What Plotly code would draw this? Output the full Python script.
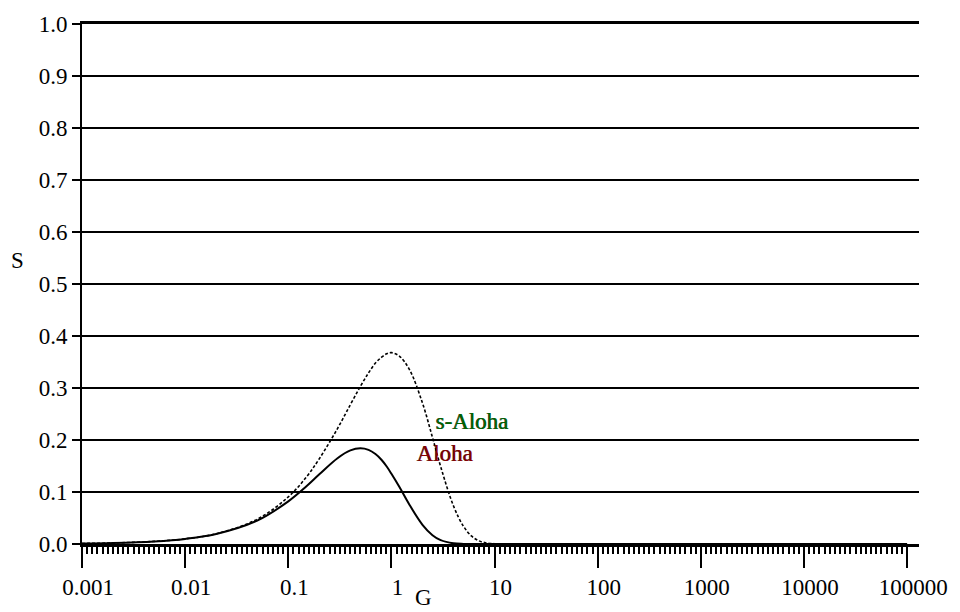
import numpy as np
import plotly.graph_objects as go

# Offered load G (log scale) and throughput S for the two protocols
G = [0.001, 0.002, 0.005, 0.01, 0.02, 0.05, 0.1, 0.15, 0.2, 0.3, 0.4, 0.5,
     0.6, 0.7, 0.8, 0.9, 1.0, 1.2, 1.5, 2.0, 2.5, 3.0, 4.0, 5.0, 6.0, 7.0,
     8.0, 10.0, 15.0, 100.0, 1000.0, 10000.0, 100000.0]
S_aloha = [0.001, 0.002, 0.005, 0.0098, 0.0192, 0.045, 0.082, 0.111, 0.134,
           0.165, 0.180, 0.184, 0.181, 0.173, 0.162, 0.149, 0.135, 0.109,
           0.075, 0.037, 0.017, 0.0074, 0.0013, 0.0002, 0.0, 0.0, 0.0, 0.0,
           0.0, 0.0, 0.0, 0.0, 0.0]
S_slotted = [0.001, 0.002, 0.005, 0.0099, 0.0196, 0.0476, 0.0905, 0.129,
             0.164, 0.222, 0.268, 0.303, 0.329, 0.348, 0.359, 0.366, 0.368,
             0.361, 0.335, 0.271, 0.205, 0.149, 0.073, 0.034, 0.015, 0.0064,
             0.0027, 0.0005, 0.0, 0.0, 0.0, 0.0, 0.0]

x_tickvals = [0.001, 0.01, 0.1, 1, 10, 100, 1000, 10000, 100000]
x_ticktext = ["0.001", "0.01", "0.1", "1", "10", "100", "1000", "10000", "100000"]
y_tickvals = [0.0, 0.1, 0.2, 0.3, 0.4, 0.5, 0.6, 0.7, 0.8, 0.9, 1.0]

FONT = "Liberation Serif, Times New Roman, serif"
FS = 23

fig = go.Figure()
fig.add_trace(go.Scatter(x=G, y=S_slotted, mode="lines", name="s-Aloha",
                         line=dict(color="black", width=1.6, dash="3px,2px"),
                         line_shape="spline"))
fig.add_trace(go.Scatter(x=G, y=S_aloha, mode="lines", name="Aloha",
                         line=dict(color="black", width=2),
                         line_shape="spline"))

minor_ticks = list(10 ** np.round(np.arange(-3, 5.0001, 0.05), 4))

fig.update_layout(
    width=960, height=612,
    margin=dict(l=82, r=35, t=19, b=68),
    paper_bgcolor="white", plot_bgcolor="white",
    showlegend=False,
    font=dict(family=FONT, size=FS, color="black"),
    xaxis=dict(
        type="log", range=[-3, 5.115],
        tickmode="array", tickvals=x_tickvals, ticktext=x_ticktext,
        ticks="outside", ticklen=21, tickwidth=2, tickcolor="black",
        ticklabelshift=6,
        showline=True, linecolor="black", linewidth=2.5,
        mirror=True,
        showgrid=False, zeroline=False,
        minor=dict(tickmode="array", tickvals=minor_ticks, ticks="outside",
                   ticklen=7, tickwidth=1.5, tickcolor="black", showgrid=False),
        tickfont=dict(family=FONT, size=FS),
    ),
    yaxis=dict(
        range=[0, 1],
        tickmode="array", tickvals=y_tickvals, tickformat=".1f",
        ticks="outside", ticklen=8, tickwidth=2, tickcolor="black",
        showline=True, linecolor="black", linewidth=2,
        showgrid=True, gridcolor="black", gridwidth=2,
        zeroline=False,
        tickfont=dict(family=FONT, size=FS),
    ),
)

# Axis titles placed by pixel position inside the page
axis_titles = [
    dict(text="S", px=17, py=258, yanchor="middle"),
    dict(text="G", px=426, py=613, yanchor="bottom"),
]
for a in axis_titles:
    fig.add_annotation(text=a["text"], xref="paper", yref="paper",
                       x=(a["px"] - 82) / (960 - 82 - 35),
                       y=(612 - 68 - a["py"]) / (612 - 68 - 19),
                       xanchor="center", yanchor=a["yanchor"],
                       showarrow=False,
                       font=dict(family=FONT, size=FS, color="black"))

# Curve labels
fig.add_annotation(text="s-Aloha", x=np.log10(2.6), y=0.235, xanchor="left",
                   yanchor="middle", showarrow=False,
                   font=dict(family=FONT, size=FS, color="#006400",
                             shadow="-0.8px 0px 0px rgba(0,0,0,0.8)"))
fig.add_annotation(text="Aloha", x=np.log10(1.68), y=0.175, xanchor="left",
                   yanchor="middle", showarrow=False,
                   font=dict(family=FONT, size=FS, color="#8b0000",
                             shadow="-0.8px 0px 0px rgba(0,0,0,0.8)"))

fig.write_html("out.html")
